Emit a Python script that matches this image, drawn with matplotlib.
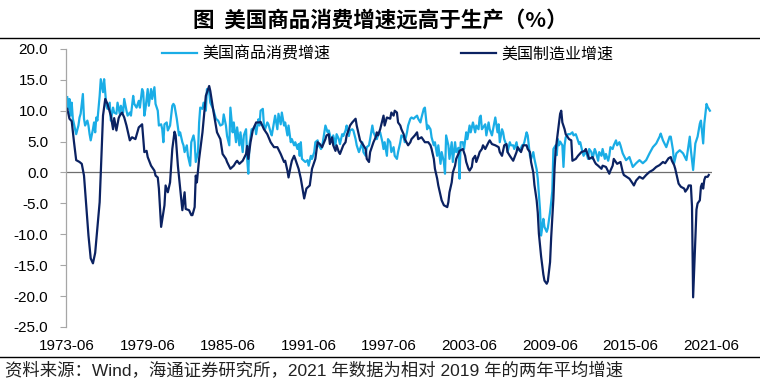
import matplotlib
matplotlib.use("Agg")
import matplotlib.pyplot as plt
from matplotlib.lines import Line2D

LIGHT = "#1AADE6"
DARK = "#0B2262"

# months counted from 1973-06
mfg_month = [
    0, 2, 4, 6, 8, 11, 13, 15, 17, 19, 21, 23, 25, 27, 29, 30, 32, 34, 36, 39, 41, 42, 44, 46, 47, 49,
    51, 53, 56, 58, 61, 64, 67, 69, 71, 72, 75, 78, 79, 81, 82, 84, 87, 88, 90, 92, 94, 96, 97, 99,
    102, 103, 105, 106, 109, 111, 112, 114, 115, 116, 118, 121, 124, 127, 128, 131, 134, 137, 139,
    142, 143, 146, 149, 151, 152, 154, 157, 160, 161, 162, 164, 166, 169, 172, 173, 176, 179, 182,
    185, 188, 191, 194, 195, 197, 198, 200, 201, 203, 204, 207, 209, 210, 212, 214, 217, 219, 222,
    224, 226, 228, 231, 232, 234, 235, 237, 238, 240, 241, 243, 244, 247, 249, 250, 252, 253, 255,
    258, 259, 261, 262, 265, 267, 268, 270, 271, 273, 274, 276, 277, 278, 280, 283, 284, 286, 289,
    290, 292, 293, 295, 296, 298, 299, 301, 302, 305, 307, 308, 311, 313, 314, 317, 320, 323, 325,
    326, 328, 329, 331, 332, 334, 335, 337, 340, 341, 342, 344, 345, 347, 348, 350, 351, 354, 356,
    357, 359, 360, 362, 363, 365, 366, 368, 369, 371, 372, 374, 377, 378, 380, 383, 386, 387, 389,
    391, 393, 394, 396, 399, 402, 403, 406, 408, 411, 412, 414, 415, 417, 418, 420, 421, 422, 424,
    426, 427, 429, 430, 432, 433, 435, 436, 437, 439, 441, 442, 443, 445, 446, 449, 451, 452, 455,
    457, 460, 463, 464, 467, 470, 472, 473, 475, 478, 479, 482, 485, 486, 488, 489, 492, 495, 497,
    498, 503, 506, 507, 509, 512, 515, 518, 521, 524, 527, 530, 533, 535, 538, 540, 541, 543, 544,
    546, 547, 549, 552, 553, 555, 556, 558, 559, 560, 562, 563, 564, 566, 567, 568, 569, 570, 571,
    573, 574,
]
mfg_growth = [
    10.3, 8.7, 8.3, 5.0, 2.0, 1.7, 1.4, -0.5, -5.3, -10.2, -13.9, -14.7, -13.0, -8.8, -4.8, 0.0, 9.2,
    11.9, 11.1, 9.2, 7.0, 8.8, 6.8, 8.8, 9.2, 9.7, 8.9, 7.6, 5.2, 5.7, 5.4, 7.3, 7.8, 3.3, 3.5, 2.5,
    1.1, 0.3, -0.5, -0.8, -2.6, -8.8, -5.3, -2.1, -3.2, -1.6, 3.8, 6.6, 6.0, 1.1, -4.2, -6.1, -3.2,
    -5.9, -6.1, -6.9, -6.9, -5.6, -0.5, -1.6, 2.2, 6.5, 12.4, 14.0, 13.2, 9.7, 6.5, 5.4, 3.0, 2.2,
    1.7, 0.6, 1.1, 1.7, 1.9, 1.4, 1.9, 3.0, 4.3, 2.2, 4.9, 6.8, 8.1, 8.1, 8.2, 7.0, 6.2, 4.9, 4.1,
    4.1, 3.0, 1.7, 1.9, 0.3, -0.8, 1.1, 1.9, 2.7, 2.2, 0.6, -1.0, -2.1, -4.2, -2.6, -2.1, 0.6, 2.2,
    4.9, 4.6, 4.1, 5.4, 6.0, 6.2, 4.6, 5.7, 4.4, 3.5, 4.4, 3.3, 3.0, 4.4, 4.9, 6.0, 7.0, 7.6, 8.1,
    8.7, 7.6, 6.0, 5.2, 4.4, 3.8, 2.2, 1.7, 3.3, 4.4, 4.9, 5.7, 6.5, 6.0, 7.0, 9.2, 7.6, 8.9, 8.7,
    9.7, 9.2, 10.0, 9.7, 8.1, 7.6, 7.0, 6.2, 5.4, 4.4, 4.9, 5.4, 6.0, 6.5, 5.4, 5.7, 4.9, 4.9, 4.4,
    3.8, 2.2, 0.6, -1.0, -2.1, -3.7, -4.5, -5.3, -5.6, -4.8, -3.2, -1.6, 0.0, 1.1, 2.2, 3.0, 3.5,
    3.8, 2.7, 1.7, 0.6, 0.3, 0.9, 2.2, 2.7, 1.7, 2.7, 3.3, 3.8, 4.4, 3.8, 4.9, 5.2, 4.6, 4.4, 4.1,
    3.3, 2.7, 4.4, 4.6, 3.3, 2.7, 1.9, 3.3, 4.1, 3.3, 4.4, 4.4, 3.8, 3.3, 1.7, 0.0, -2.0, -4.5,
    -6.5, -9.9, -13.6, -16.5, -17.5, -18.0, -17.6, -14.5, -10.5, -4.2, 0.6, 3.6, 6.5, 9.5, 10.0,
    8.1, 7.0, 6.2, 5.4, 5.2, 1.9, 2.2, 2.7, 3.3, 3.5, 3.8, 2.2, 2.5, 1.7, 1.4, 1.1, 0.6, 1.1, 0.9,
    -0.2, 0.3, 1.1, 2.2, 1.4, 1.7, 0.1, -0.4, -1.0, -1.8, -2.1, -1.3, -0.7, -1.0, -0.4, 0.1, 0.4,
    0.9, 1.2, 1.7, 1.5, 2.3, 2.5, 1.9, 1.2, 0.6, -1.0, -1.8, -2.3, -2.6, -3.1, -2.6, -2.1, -2.1,
    -5.5, -20.2, -10.8, -6.0, -5.0, -4.5, -2.3, -1.8, -2.6, -1.2, -0.7, -0.7, -0.4,
]

goods_month = [
    0, 1, 2, 3, 4, 5, 7, 8, 10, 11, 12, 14, 15, 16, 18, 19, 20, 21, 23, 24, 25, 26, 27, 29, 30, 32,
    33, 35, 36, 38, 39, 41, 42, 44, 45, 47, 48, 50, 51, 53, 54, 56, 57, 59, 60, 62, 64, 65, 67, 68,
    69, 70, 72, 73, 75, 76, 78, 79, 81, 82, 84, 85, 86, 87, 89, 90, 92, 94, 95, 96, 98, 100, 101,
    103, 104, 105, 107, 108, 110, 111, 113, 114, 115, 117, 118, 119, 121, 122, 124, 125, 127, 128,
    130, 131, 133, 135, 137, 139, 140, 142, 143, 145, 146, 148, 149, 151, 152, 154, 155, 157, 158,
    160, 161, 162, 163, 165, 166, 168, 169, 171, 172, 173, 175, 176, 177, 179, 180, 182, 183, 185,
    186, 188, 189, 191, 192, 194, 195, 197, 198, 200, 201, 203, 204, 206, 207, 208, 209, 210, 213,
    215, 216, 218, 219, 221, 222, 224, 225, 227, 228, 230, 231, 233, 234, 236, 237, 238, 240, 241,
    243, 244, 246, 247, 249, 250, 252, 253, 255, 256, 258, 259, 261, 262, 264, 265, 267, 268, 270,
    271, 273, 274, 276, 277, 278, 280, 282, 283, 284, 286, 287, 289, 290, 292, 293, 295, 296, 298,
    299, 301, 302, 304, 305, 307, 308, 310, 311, 313, 314, 316, 317, 319, 320, 322, 323, 325, 326,
    328, 329, 331, 332, 334, 335, 337, 338, 339, 341, 342, 344, 345, 347, 348, 350, 351, 352, 354,
    355, 357, 358, 360, 361, 363, 365, 366, 368, 369, 370, 371, 374, 375, 377, 378, 380, 381, 383,
    385, 386, 387, 389, 390, 391, 393, 394, 396, 397, 399, 400, 402, 403, 405, 407, 408, 409, 411,
    412, 414, 415, 417, 418, 420, 421, 422, 423, 424, 426, 427, 429, 430, 432, 433, 434, 435, 437,
    438, 439, 440, 441, 443, 444, 445, 446, 448, 450, 452, 453, 455, 456, 458, 459, 461, 462, 464,
    466, 467, 469, 470, 472, 473, 475, 476, 478, 479, 481, 482, 484, 485, 486, 488, 489, 491, 492,
    494, 495, 497, 500, 503, 506, 509, 512, 515, 518, 521, 524, 527, 530, 531, 533, 536, 539, 540,
    542, 543, 545, 548, 551, 554, 557, 558, 560, 562, 564, 566, 567, 569, 570, 572, 573, 575,
]
goods_growth = [
    12.2, 10.3, 11.9, 9.2, 11.3, 8.7, 7.0, 6.2, 7.6, 8.9, 9.5, 12.7, 8.7, 7.6, 8.4, 7.6, 6.2, 5.2,
    7.0, 8.1, 6.5, 8.9, 8.4, 12.4, 15.1, 13.0, 15.1, 10.8, 10.3, 11.3, 8.4, 10.5, 9.7, 9.5, 11.3,
    9.5, 10.8, 9.7, 11.9, 10.0, 9.2, 9.7, 9.2, 12.4, 11.1, 10.5, 11.6, 10.5, 13.5, 13.0, 9.2, 10.3,
    13.5, 10.8, 13.5, 11.9, 13.8, 11.1, 10.0, 7.6, 7.8, 7.0, 4.9, 7.8, 8.1, 6.8, 7.6, 10.8, 11.1,
    10.8, 8.7, 6.0, 6.5, 4.9, 4.4, 3.3, 4.4, 2.7, 1.1, 4.9, 6.0, 4.9, 1.7, 3.3, 8.1, 10.5, 10.3,
    11.3, 10.0, 13.5, 13.0, 11.3, 10.5, 10.0, 8.7, 8.4, 7.6, 7.8, 9.4, 7.6, 5.9, 4.4, 10.5, 6.5,
    8.1, 4.9, 7.3, 4.4, 6.5, 3.3, 6.0, 7.0, 2.2, -0.2, 4.4, 7.0, 7.0, 7.6, 6.2, 8.6, 7.6, 10.0,
    10.3, 7.6, 7.0, 8.1, 7.8, 6.5, 6.0, 8.1, 9.2, 7.0, 9.5, 7.8, 9.7, 7.6, 8.1, 6.0, 7.6, 4.9, 5.4,
    4.4, 4.9, 3.8, 4.6, 2.7, 4.9, 2.2, 1.7, 2.0, 1.1, 2.7, 2.2, 3.3, 4.9, 5.2, 4.4, 3.8, 4.1, 6.5,
    7.6, 6.5, 6.8, 5.4, 4.9, 6.0, 4.4, 6.2, 5.4, 4.6, 6.2, 5.9, 6.8, 7.6, 5.9, 6.8, 7.0, 6.8, 5.4,
    4.4, 3.3, 3.8, 4.9, 3.3, 2.7, 4.1, 4.4, 5.4, 7.6, 6.5, 5.7, 5.4, 6.0, 6.5, 4.9, 3.8, 4.9, 2.7,
    5.4, 4.9, 3.3, 4.1, 2.7, 2.2, 3.3, 4.9, 6.0, 5.7, 4.9, 6.5, 7.6, 8.7, 8.9, 8.7, 8.9, 9.2, 8.7,
    8.1, 8.9, 10.3, 10.5, 7.0, 7.6, 7.0, 5.7, 4.4, 4.9, 2.7, 4.4, 1.4, 3.3, 1.7, -0.2, 6.0, 4.4,
    2.2, 4.9, 1.7, 4.9, 3.3, 4.0, -1.0, 4.9, 4.9, 3.8, 6.5, 5.4, 7.6, 6.5, 8.1, 6.5, 7.6, 7.0, 8.9,
    9.2, 7.0, 7.8, 6.0, 8.1, 7.0, 6.0, 7.0, 8.9, 6.5, 7.8, 4.9, 7.0, 6.5, 5.4, 4.4, 3.3, 4.9, 4.4,
    4.4, 3.8, 4.9, 3.8, 3.5, 4.4, 4.4, 4.9, 6.5, 6.0, 2.7, 2.2, 3.3, 2.2, 0.5, -1.0, -3.5, -6.0,
    -10.2, -7.5, -8.8, -9.6, -9.0, -6.4, -4.8, -3.0, 3.8, 4.4, 2.8, 5.4, 4.4, 5.0, 4.4, 0.9, 4.4,
    5.7, 6.2, 6.2, 6.5, 6.0, 6.2, 5.7, 4.6, 4.9, 3.3, 2.7, 3.5, 2.2, 3.8, 3.3, 2.2, 3.8, 3.3, 1.9,
    3.3, 2.7, 3.8, 2.2, 3.0, 1.9, 2.7, 4.1, 3.8, 4.4, 5.2, 4.4, 4.9, 4.4, 3.1, 2.0, 2.5, 0.9, 1.5,
    2.0, 1.5, 2.0, 3.1, 4.1, 4.7, 5.8, 6.3, 5.2, 4.1, 5.8, 5.8, 3.6, 1.5, 3.1, 3.6, 3.1, 2.0, 5.8,
    3.6, 0.4, 4.7, 5.8, 7.9, 8.4, 4.7, 7.9, 11.1, 10.6, 10.0,
]

tick_month = [0, 72, 144, 216, 288, 360, 432, 504, 576]
tick_label = ["1973-06", "1979-06", "1985-06", "1991-06", "1997-06",
              "2003-06", "2009-06", "2015-06", "2021-06"]
y_ticks = [20, 15, 10, 5, 0, -5, -10, -15, -20, -25]

plt.rcParams["font.family"] = ["Liberation Sans", "Noto Sans CJK SC"]

fig = plt.figure(figsize=(7.6, 3.82), dpi=100)
ax = fig.add_axes([0.087, 0.144, 0.85, 0.728])

ax.plot(goods_month, goods_growth, color=LIGHT, lw=1.6, label="美国商品消费增速")
ax.plot(mfg_month, mfg_growth, color=DARK, lw=1.6, label="美国制造业增速")
ax.axhline(0, color="#6E6E6E", lw=0.9, zorder=0)

ax.set_xlim(-1, 577)
ax.set_ylim(-25, 20)
ax.set_yticks(y_ticks)
ax.set_yticklabels([f"{v:.1f}" for v in y_ticks])
ax.set_xticks(tick_month)
ax.set_xticklabels(tick_label)
ax.tick_params(axis="y", length=4, width=0.8, color="#A6A6A6", pad=9, labelsize=11)
ax.tick_params(axis="x", length=0, pad=9, labelsize=11)
for side in ("top", "right", "bottom"):
    ax.spines[side].set_visible(False)
ax.spines["left"].set_color("#A6A6A6")
ax.spines["left"].set_linewidth(0.9)

ax.legend(loc="center", bbox_to_anchor=(0.51, 0.858), bbox_transform=fig.transFigure,
          ncol=2, frameon=False, handlelength=2.2, handletextpad=0.3,
          columnspacing=8.2, borderpad=0, prop={"family": ["Noto Sans CJK SC"], "size": 11.5})

fig.text(0.5, 0.948, "图  美国商品消费增速远高于生产（%）", ha="center", va="center",
         fontsize=15.5, fontweight="bold", family=["Noto Sans CJK SC"])
fig.add_artist(Line2D([0, 1], [0.9, 0.9], transform=fig.transFigure, color="black", lw=1.0))
fig.add_artist(Line2D([0, 1], [0.066, 0.066], transform=fig.transFigure, color="black", lw=1.0))
fig.text(0.007, 0.029, "资料来源：Wind，海通证券研究所，2021 年数据为相对 2019 年的两年平均增速",
         ha="left", va="center", fontsize=12.5, color="#222222")

fig.savefig("out.png", dpi=100)
